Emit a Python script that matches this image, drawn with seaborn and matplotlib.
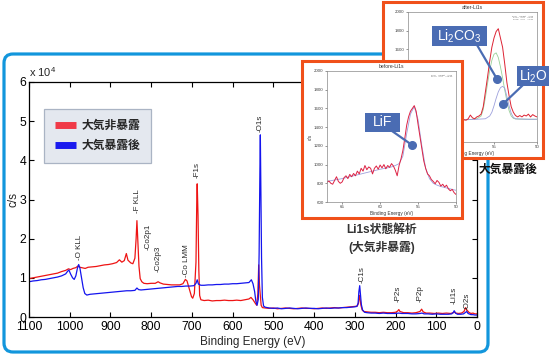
import numpy as np
import pandas as pd
import matplotlib
matplotlib.use("Agg")
import matplotlib.pyplot as plt
import seaborn as sns
from matplotlib.patches import FancyBboxPatch, Rectangle
from matplotlib.lines import Line2D

sns.set_theme(style="ticks")
plt.rcParams['font.family'] = ['Liberation Sans', 'Noto Sans CJK JP', 'DejaVu Sans']
plt.rcParams['mathtext.fontset'] = 'custom'
plt.rcParams['mathtext.rm'] = 'Liberation Sans'
plt.rcParams['mathtext.bf'] = 'Liberation Sans:bold'
plt.rcParams['mathtext.default'] = 'regular'

# ---------------- data: wide survey ----------------
red_E = [1100, 1090, 1080, 1070, 1060, 1050, 1040, 1030, 1020, 1010, 1003, 998, 992, 985, 980, 975, 970,
         962, 955, 945, 935, 925, 915, 905, 895, 885, 878, 872, 866, 861, 857, 850, 845, 840, 837, 835,
         833, 830, 827, 823, 818, 810, 800, 790, 783, 778, 770, 760, 750, 740, 730, 722, 716, 712, 706,
         701, 698, 694, 690, 688, 687, 685, 683, 681, 678, 670, 660, 650, 640, 630, 620, 610, 600, 590,
         580, 570, 560, 555, 550, 545, 541, 538, 536, 534, 532, 530, 527, 520, 510, 500, 490, 480, 470,
         460, 450, 440, 430, 420, 410, 400, 390, 380, 370, 360, 350, 340, 330, 320, 310, 300, 294, 291,
         289, 287, 285, 282, 278, 270, 260, 250, 240, 230, 220, 210, 200, 195, 192, 189, 180, 170, 160,
         150, 140, 136, 132, 125, 115, 105, 95, 85, 75, 65, 58, 55, 52, 45, 38, 32, 28, 25, 20, 15, 10, 5, 0]
red_I = [0.98, 1.00, 1.02, 1.04, 1.06, 1.08, 1.10, 1.12, 1.16, 1.19, 1.23, 1.21, 1.24, 1.26, 1.30, 1.27, 1.26,
         1.24, 1.27, 1.28, 1.29, 1.31, 1.33, 1.34, 1.36, 1.39, 1.46, 1.40, 1.44, 1.62, 1.45, 1.38, 1.36, 1.50, 2.00, 2.46,
         2.00, 1.30, 0.98, 0.90, 0.86, 0.85, 0.86, 0.86, 0.90, 0.87, 0.84, 0.83, 0.82, 0.82, 0.82, 0.85, 0.96, 0.92, 0.70,
         0.52, 0.48, 0.60, 1.40, 3.00, 3.40, 2.60, 1.20, 0.55, 0.44, 0.42, 0.43, 0.41, 0.42, 0.42, 0.43, 0.42, 0.42, 0.43,
         0.42, 0.44, 0.46, 0.50, 0.44, 0.36, 0.30, 0.60, 1.33, 0.80, 0.55, 0.30, 0.24, 0.23, 0.22, 0.23, 0.21, 0.22, 0.23,
         0.22, 0.21, 0.22, 0.23, 0.22, 0.22, 0.21, 0.22, 0.23, 0.22, 0.23, 0.24, 0.23, 0.24, 0.25, 0.26, 0.27, 0.28, 0.35,
         0.55, 0.45, 0.30, 0.18, 0.14, 0.13, 0.12, 0.12, 0.11, 0.12, 0.11, 0.11, 0.12, 0.15, 0.19, 0.14, 0.11, 0.11, 0.10,
         0.11, 0.14, 0.20, 0.13, 0.10, 0.10, 0.09, 0.10, 0.09, 0.10, 0.09, 0.11, 0.13, 0.10, 0.09, 0.10, 0.14, 0.24, 0.18,
         0.12, 0.09, 0.10, 0.08, 0.08]

blue_E = [1100, 1090, 1080, 1070, 1060, 1050, 1040, 1030, 1020, 1010, 1005, 1002, 998, 993, 989, 985, 981, 978,
          975, 971, 967, 963, 958, 950, 940, 930, 920, 910, 900, 890, 880, 870, 860, 850, 840, 835, 831, 825,
          815, 805, 795, 785, 775, 765, 755, 745, 735, 725, 715, 705, 695, 690, 687, 684, 678, 670, 660, 650,
          640, 630, 620, 610, 600, 590, 580, 570, 560, 554, 550, 546, 543, 540, 537, 535, 533, 532, 531, 529,
          527, 524, 520, 510, 500, 490, 480, 470, 460, 450, 440, 430, 420, 410, 400, 390, 380, 370, 360, 350,
          340, 330, 320, 310, 300, 295, 292, 290, 288, 286, 284, 281, 276, 270, 260, 250, 240, 230, 220, 210,
          200, 192, 185, 170, 160, 150, 140, 135, 130, 120, 110, 100, 90, 80, 70, 62, 58, 56, 53, 48, 40, 33,
          28, 25, 22, 15, 10, 5, 0]
blue_I = [0.90, 0.92, 0.93, 0.95, 0.96, 0.98, 1.00, 1.02, 1.05, 1.10, 1.17, 1.20, 1.10, 1.00, 0.96, 1.05, 1.25, 1.34,
          1.25, 1.00, 0.75, 0.60, 0.56, 0.58, 0.59, 0.60, 0.61, 0.62, 0.63, 0.64, 0.65, 0.66, 0.67, 0.67, 0.68, 0.74, 0.70, 0.69,
          0.70, 0.71, 0.72, 0.73, 0.74, 0.75, 0.76, 0.77, 0.78, 0.78, 0.79, 0.79, 0.80, 0.86, 0.95, 0.84, 0.81, 0.81, 0.82, 0.82,
          0.83, 0.83, 0.84, 0.84, 0.85, 0.85, 0.86, 0.87, 0.88, 0.95, 0.85, 0.65, 0.40, 0.30, 0.45, 1.60, 3.80, 4.65, 3.80, 1.50,
          0.50, 0.28, 0.25, 0.23, 0.22, 0.23, 0.21, 0.22, 0.23, 0.22, 0.21, 0.22, 0.23, 0.22, 0.22, 0.21, 0.22, 0.23, 0.22, 0.23,
          0.23, 0.24, 0.24, 0.25, 0.26, 0.27, 0.35, 0.65, 0.80, 0.55, 0.32, 0.18, 0.12, 0.11, 0.10, 0.10, 0.09, 0.10, 0.09, 0.09,
          0.09, 0.10, 0.09, 0.09, 0.08, 0.08, 0.09, 0.10, 0.08, 0.08, 0.07, 0.08, 0.07, 0.07, 0.07, 0.08, 0.12, 0.16, 0.10, 0.07,
          0.07, 0.08, 0.12, 0.14, 0.09, 0.06, 0.06, 0.05, 0.05]

legend_labels = ["大気非暴露", "大気暴露後"]

peak_labels = ["-O KLL", "-F KLL", "-Co2p1", "-Co2p3", "-Co LMM", "-F1s", "-O1s",
               "-C1s", "-P2s", "-P2p", "-Li1s", "-O2s"]
peak_E = [975, 834, 807, 782, 713, 688, 533, 283, 193, 140, 56, 24]
peak_y = [1.45, 2.65, 1.71, 1.15, 1.02, 3.55, 4.72, 0.87, 0.38, 0.38, 0.33, 0.18]

# ---------------- data: before-Li1s inset ----------------
before_E = [67.00, 66.75, 66.50, 66.25, 66.00, 65.75, 65.50, 65.25, 65.00, 64.75, 64.50, 64.25, 64.00,
            63.75, 63.50, 63.25, 63.00, 62.75, 62.50, 62.25, 62.00, 61.75, 61.50, 61.25, 61.00, 60.75,
            60.50, 60.25, 60.00, 59.75, 59.50, 59.25, 59.00, 58.75, 58.50, 58.25, 58.00, 57.75, 57.50,
            57.25, 57.00, 56.75, 56.50, 56.25, 56.00, 55.75, 55.50, 55.25, 55.00, 54.75, 54.50, 54.25,
            54.00, 53.75, 53.50, 53.25, 53.00, 52.75, 52.50, 52.25, 52.00, 51.75, 51.50, 51.25, 51.00,
            50.75, 50.50, 50.25, 50.00]
before_I = [810, 825, 800, 790, 830, 870, 820, 800, 815, 860, 880, 850, 895,
            870, 905, 880, 930, 900, 960, 930, 990, 945, 975, 960, 900, 960,
            985, 950, 995, 965, 1000, 955, 990, 970, 1010, 985, 940, 880, 990,
            1060, 1150, 1280, 1420, 1510, 1570, 1600, 1630, 1570, 1430, 1300, 1170, 1040,
            960, 900, 880, 840, 820, 795, 830, 810, 770, 790, 760, 780, 740,
            720, 735, 700, 680]
before_fit_E = [67, 66, 65, 64, 63, 62, 61, 60, 59, 58.5, 58, 57.5, 57, 56.5, 56, 55.5, 55, 54.5, 54,
                53.5, 53, 52.5, 52, 51, 50]
before_fit_I = [820, 835, 850, 870, 890, 910, 930, 950, 965, 975, 990, 1010, 1090, 1330, 1540, 1620,
                1480, 1200, 960, 850, 800, 780, 765, 745, 725]

# ---------------- data: after-Li1s inset ----------------
after_E = [65.00, 64.75, 64.50, 64.25, 64.00, 63.75, 63.50, 63.25, 63.00, 62.75, 62.50, 62.25, 62.00,
           61.75, 61.50, 61.25, 61.00, 60.75, 60.50, 60.25, 60.00, 59.75, 59.50, 59.25, 59.00, 58.75,
           58.50, 58.25, 58.00, 57.75, 57.50, 57.25, 57.00, 56.75, 56.50, 56.25, 56.00, 55.75, 55.50,
           55.25, 55.00, 54.75, 54.50, 54.25, 54.00, 53.75, 53.50, 53.25, 53.00, 52.75, 52.50, 52.25,
           52.00, 51.75, 51.50, 51.25, 51.00, 50.75, 50.50, 50.25, 50.00]
after_I = [820, 835, 815, 840, 825, 845, 830, 850, 835, 820, 845, 830, 850,
           835, 825, 845, 830, 840, 825, 845, 835, 820, 840, 830, 845, 825,
           840, 835, 850, 890, 860, 850, 870, 880, 900, 980, 1140, 1300, 1470,
           1620, 1720, 1790, 1820, 1720, 1620, 1440, 1240, 1100, 980, 920, 885, 870,
           885, 870, 890, 880, 900, 870, 895, 880, 870]
li2co3_E = [65, 60, 58, 57, 56.5, 56.25, 56.0, 55.75, 55.5, 55.25, 55.0, 54.75, 54.5, 54.25, 54.0,
            53.75, 53.5, 53.25, 53.0, 52.75, 52.5, 52, 51, 50]
li2co3_I = [830, 835, 840, 850, 880, 950, 1080, 1230, 1370, 1480, 1545, 1560, 1510, 1410, 1290,
            1160, 1040, 940, 880, 855, 848, 846, 845, 845]
li2o_E = [65, 60, 57, 56, 55.5, 55.25, 55.0, 54.75, 54.5, 54.25, 54.0, 53.75, 53.5, 53.25, 53.0,
          52.75, 52.5, 52, 51, 50]
li2o_I = [830, 835, 845, 850, 880, 920, 990, 1070, 1140, 1185, 1200, 1180, 1090, 990, 910,
          865, 850, 848, 845, 845]

inset_yticks = [600, 800, 1000, 1200, 1400, 1600, 1800, 2000]
inset_xticks = [65, 60, 55, 50]

# ---------------- styles ----------------
RED = '#ee1414'
BLUE = '#1414ee'
FRAME_BLUE = '#1296dc'
ORANGE = '#f0501a'
CALLOUT = '#4a6cb3'

W, H = 559, 364
fig = plt.figure(figsize=(W / 100, H / 100), dpi=100)
fig.patch.set_facecolor('white')
T = fig.dpi_scale_trans


def P(x, y):
    return (x / 100, (H - y) / 100)


def ax_rect(x0, y0, x1, y1):
    return [x0 / W, 1 - y1 / H, (x1 - x0) / W, (y1 - y0) / H]


# blue rounded frame
frame = FancyBboxPatch(P(4, 352), (488 - 4) / 100, (352 - 54) / 100,
                       boxstyle="round,pad=0,rounding_size=0.09", transform=T,
                       facecolor='none', edgecolor=FRAME_BLUE, lw=2.3, zorder=0.5)
fig.add_artist(frame)

# ---------------- main axes ----------------
ax = fig.add_axes(ax_rect(29, 82, 477, 317))
ax.set_zorder(1)
df_red = pd.DataFrame({'E': red_E, 'I': red_I})
df_blue = pd.DataFrame({'E': blue_E, 'I': blue_I})
sns.lineplot(data=df_red, x='E', y='I', ax=ax, color=RED, lw=0.9, estimator=None)
sns.lineplot(data=df_blue, x='E', y='I', ax=ax, color=BLUE, lw=0.9, estimator=None)
ax.set_xlim(1100, 0)
ax.set_ylim(0, 6)
ax.set_xticks(np.arange(1100, -1, -100))
ax.set_yticks(range(0, 7))
ax.tick_params(direction='in', length=3.5, width=0.8, top=True, right=True, labelsize=8.8,
               colors='black')
ax.tick_params(axis='x', pad=3)
ax.tick_params(axis='y', pad=2)
for s in ax.spines.values():
    s.set_color('black')
    s.set_linewidth(0.9)
ax.set_xlabel("Binding Energy (eV)", fontsize=8.5, labelpad=2)
ax.set_ylabel("c/s", fontsize=8.5, labelpad=0)
ax.text(0.0, 1.012, "x 10$^4$", transform=ax.transAxes, fontsize=8, ha='left', va='bottom')

for lab, e, yy in zip(peak_labels, peak_E, peak_y):
    ax.text(e, yy, lab, rotation=90, ha='center', va='bottom', fontsize=5.8)

handles = [Line2D([], [], color='#f03a48', lw=5, solid_capstyle='butt'),
           Line2D([], [], color='#1a1aee', lw=5, solid_capstyle='butt')]
leg = ax.legend(handles, legend_labels, loc='upper left', bbox_to_anchor=(0.034, 0.885),
                borderaxespad=0, frameon=True, fancybox=False, facecolor='#e4e8ef',
                edgecolor='#aab4c4', framealpha=1, handlelength=1.8, handletextpad=0.5,
                borderpad=0.9, labelspacing=0.7, prop={'size': 8.5, 'weight': 'bold'})
leg.get_frame().set_linewidth(0.9)


def style_inset(a, xlim, title, ylabel=True):
    a.set_xlim(*xlim)
    a.set_ylim(600, 2000)
    a.set_xticks(inset_xticks)
    a.set_yticks(inset_yticks)
    a.tick_params(direction='out', length=1.5, width=0.4, labelsize=3.2, pad=1, colors='#444444')
    for s in a.spines.values():
        s.set_color('#888888')
        s.set_linewidth(0.5)
    a.set_xlabel("Binding Energy (eV)", fontsize=3.4, labelpad=1, color='#333333')
    a.set_ylabel("c/s" if ylabel else "", fontsize=3.4, labelpad=1, color='#333333')
    a.set_title(title, fontsize=3.6, pad=2, color='#333333')
    a.set_facecolor('white')


# ---------------- after inset ----------------
fig.add_artist(Rectangle(P(383, 158), 160 / 100, 156 / 100, transform=T, facecolor='white',
                         edgecolor=ORANGE, lw=2.2, zorder=2))
ax2 = fig.add_axes(ax_rect(408, 12, 537, 142))
ax2.set_zorder(3)
sns.lineplot(x=li2co3_E, y=li2co3_I, ax=ax2, color='#99d099', lw=0.6, estimator=None)
sns.lineplot(x=li2o_E, y=li2o_I, ax=ax2, color='#9da0dc', lw=0.6, estimator=None)
sns.lineplot(x=after_E, y=after_I, ax=ax2, color='#dd2233', lw=0.7, estimator=None)
style_inset(ax2, (65, 50), "after-Li1s", ylabel=False)
ax2.text(0.97, 0.97, "Posi.    Height    Area\n54.91   0.00    28.05\n53.95   0.00    71.95",
         transform=ax2.transAxes, fontsize=1.6, ha='right', va='top', color='#666666')

# ---------------- before inset ----------------
fig.add_artist(Rectangle(P(302, 218), 160 / 100, 157 / 100, transform=T, facecolor='white',
                         edgecolor=ORANGE, lw=2.2, zorder=4))
ax1 = fig.add_axes(ax_rect(327, 71, 456, 202))
ax1.set_zorder(5)
sns.lineplot(x=before_fit_E, y=before_fit_I, ax=ax1, color='#9da0dc', lw=0.6, estimator=None)
sns.lineplot(x=before_E, y=before_I, ax=ax1, color='#dd2244', lw=0.7, estimator=None)
style_inset(ax1, (67, 50), "before-Li1s")
ax1.text(0.97, 0.97, "Posi.    Height    Area\n55.40   0.00    100.00",
         transform=ax1.transAxes, fontsize=1.6, ha='right', va='top', color='#666666')


# ---------------- callouts ----------------
def callout(x0, y0, x1, y1, text, lx0, ly0, dx, dy):
    fig.add_artist(Line2D([P(lx0, ly0)[0], P(dx, dy)[0]], [P(lx0, ly0)[1], P(dx, dy)[1]],
                          transform=T, color=CALLOUT, lw=1.6, zorder=7))
    fig.add_artist(Line2D([P(dx, dy)[0]], [P(dx, dy)[1]], transform=T, marker='o', ms=5.5,
                          color=CALLOUT, zorder=8))
    fig.add_artist(Rectangle(P(x0, y1), (x1 - x0) / 100, (y1 - y0) / 100, transform=T,
                             facecolor=CALLOUT, edgecolor='none', zorder=9))
    cx, cy = P((x0 + x1) / 2, (y0 + y1) / 2)
    fig.text(cx / (W / 100), cy / (H / 100), text, ha='center', va='center', color='white',
             fontsize=10, zorder=10)


callout(365, 113, 400, 132, "LiF", 392, 131, 412, 145)
callout(432, 26, 487, 46, "Li$_2$CO$_3$", 477, 45, 497, 79)
callout(517, 66, 549, 86, "Li$_2$O", 523, 85, 503, 104)

fig.text(382 / W, 1 - 230 / H, "Li1s状態解析", ha='center', va='center', fontsize=8.5,
         fontweight='bold', color='#333333', zorder=10)
fig.text(382 / W, 1 - 247 / H, "(大気非暴露)", ha='center', va='center', fontsize=8.5,
         fontweight='bold', color='#333333', zorder=10)
fig.text(508 / W, 1 - 170 / H, "大気暴露後", ha='center', va='center', fontsize=8.5,
         fontweight='bold', color='#111111', zorder=10)

fig.savefig("out.png", dpi=100)
